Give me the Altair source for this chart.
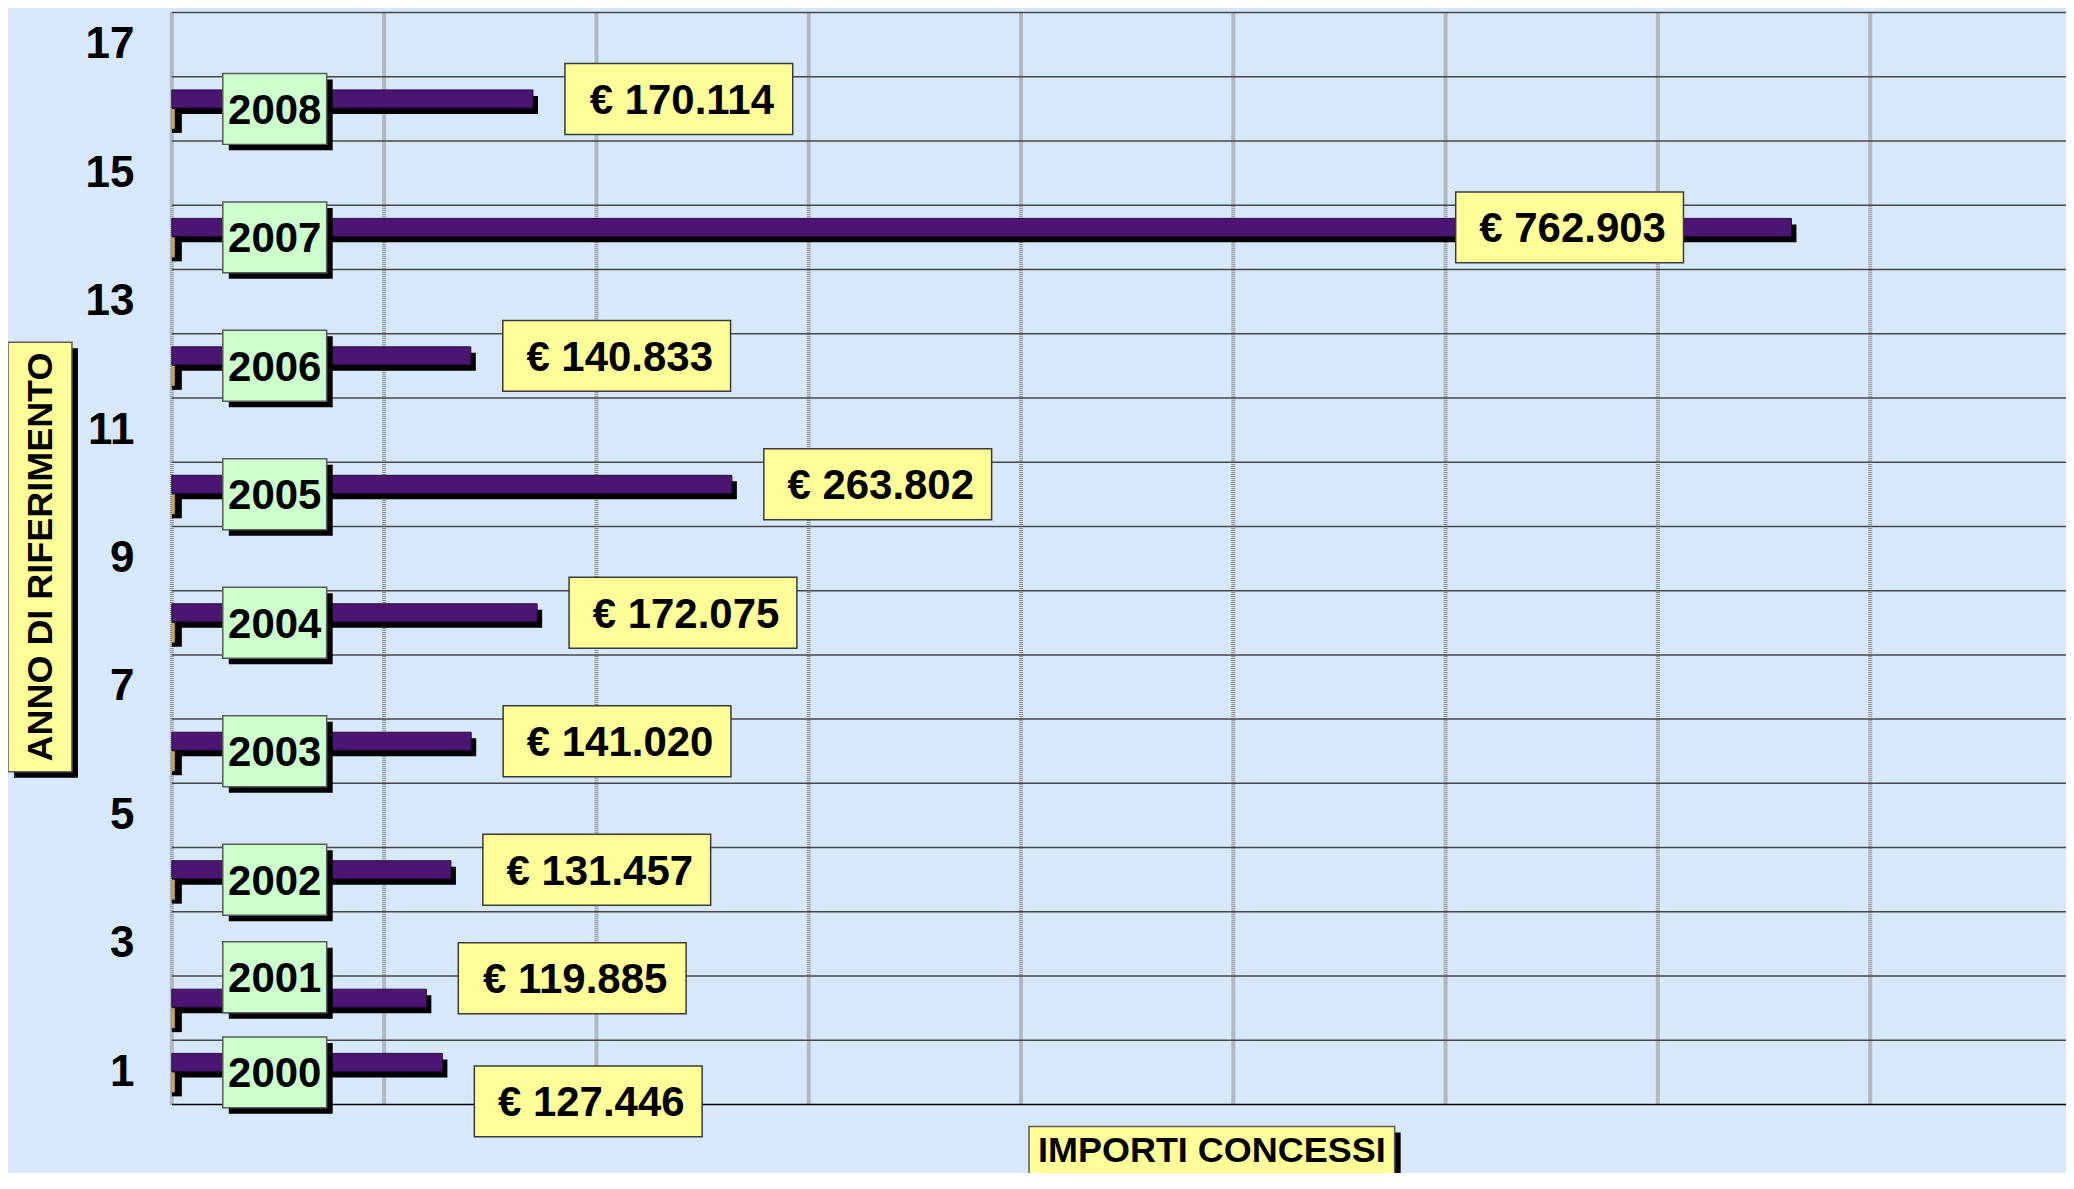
import altair as alt
import pandas as pd

# ---- data ----
anni = [2000, 2001, 2002, 2003, 2004, 2005, 2006, 2007, 2008]
importi = [127446, 119885, 131457, 141020, 172075, 263802, 140833, 762903, 170114]
categoria = [1, 2, 4, 6, 8, 10, 12, 14, 16]          # slot on the category axis
etichette_y = [1, 3, 5, 7, 9, 11, 13, 15, 17]        # tick labels shown
griglia_x = [0, 100000, 200000, 300000, 400000, 500000, 600000, 700000, 800000]
n_categorie = 17
titolo_y = "ANNO DI RIFERIMENTO"
titolo_x = "IMPORTI CONCESSI"

# ---- layout ----
W, H = 1896, 1093
PX_PER_UNIT_X = 212.5 / 100000
XMAX = W / PX_PER_UNIT_X
PY = H / n_categorie  # px per category

FONT = "Liberation Sans, Arial, Helvetica, sans-serif"
BG = "#d7e8fb"
PURPLE = "#4a1672"
GREEN = "#ccffcc"
YELLOW = "#ffff99"


def euro(v):
    return "€ " + f"{v:,}".replace(",", ".")


df = pd.DataFrame({
    "anno": [str(a) for a in anni],
    "importo": importi,
    "cat": categoria,
    "etichetta": [euro(v) for v in importi],
})
df["zero"] = 0
df["mid"] = df["cat"] - 0.5
df["centro"] = df["mid"] + 10 / PY
df["b_lo"] = df["centro"] - 9 / PY
df["b_hi"] = df["centro"] + 9 / PY
df["f_lo"] = df["b_lo"] - 25 / PY

# labels: centred on their bar, but pushed apart when two bars are adjacent
lab_y = list(df["centro"])
year_y = list(df["mid"])
for i in range(len(categoria) - 1):
    if categoria[i + 1] - categoria[i] == 1:
        lab_y[i] -= 39 / PY
        lab_y[i + 1] += 20 / PY
        year_y[i + 1] += 31 / PY
df["lab_y"] = lab_y
df["year_y"] = year_y
df["yb_lo"] = df["year_y"] - 35.5 / PY
df["yb_hi"] = df["year_y"] + 35.5 / PY
df["vb_lo"] = df["lab_y"] - 35.5 / PY
df["vb_hi"] = df["lab_y"] + 35.5 / PY
# value label placed right of the bar end, or inside a very long bar
df["ancora"] = [v - 104500 if v > 500000 else v + 68700 for v in importi]

xs = alt.Scale(domain=[0, XMAX], nice=False, zero=False)
ys = alt.Scale(domain=[0, n_categorie], nice=False, zero=False)
yaxis = alt.Axis(
    values=[t - 0.5 for t in etichette_y],
    labelExpr="datum.value + 0.5",
    labelFont=FONT, labelFontWeight="bold", labelFontSize=44, labelColor="black",
    labelAlign="right", labelBaseline="middle", labelPadding=38,
    ticks=False, domain=False, grid=False, title=None,
)

base = alt.Chart(df)

vgrid = alt.Chart(pd.DataFrame({"gx": griglia_x})).mark_rule(
    color="#8a8a8a", strokeWidth=4, strokeDash=[1, 1]
).encode(x=alt.X("gx:Q", scale=xs, axis=None))

hgrid = alt.Chart(pd.DataFrame({"gy": list(range(n_categorie + 1))})).mark_rule(
    strokeWidth=1.5
).encode(
    y=alt.Y("gy:Q", scale=ys, axis=yaxis),
    color=alt.condition("datum.gy == 0", alt.value("black"), alt.value("#474747")),
)

bar_shadow = base.mark_rect(color="black", xOffset=5, x2Offset=5, yOffset=6, y2Offset=6).encode(
    x=alt.X("zero:Q", scale=xs, axis=None), x2="importo:Q",
    y=alt.Y("b_lo:Q", scale=ys, axis=yaxis), y2="b_hi:Q",
)
bars = base.mark_rect(color=PURPLE, stroke="#2a0a40", strokeWidth=1).encode(
    x=alt.X("zero:Q", scale=xs, axis=None), x2="importo:Q",
    y=alt.Y("b_lo:Q", scale=ys, axis=yaxis), y2="b_hi:Q",
)
foot = base.mark_rect(color="black").encode(
    x=alt.value(0), x2=alt.value(10),
    y=alt.Y("f_lo:Q", scale=ys, axis=yaxis), y2="b_lo:Q",
)
foot_stripe = base.mark_rect(color="#c8a060", yOffset=-4, y2Offset=1).encode(
    x=alt.value(0), x2=alt.value(3),
    y=alt.Y("f_lo:Q", scale=ys, axis=yaxis), y2="b_lo:Q",
)

year_shadow = base.mark_rect(color="black", yOffset=6, y2Offset=6).encode(
    x=alt.value(57), x2=alt.value(161),
    y=alt.Y("yb_lo:Q", scale=ys, axis=yaxis), y2="yb_hi:Q",
)
year_box = base.mark_rect(fill=GREEN, stroke="#5a5a5a", strokeWidth=1.5).encode(
    x=alt.value(51), x2=alt.value(155),
    y=alt.Y("yb_lo:Q", scale=ys, axis=yaxis), y2="yb_hi:Q",
)
year_text = base.mark_text(
    font=FONT, fontWeight="bold", fontSize=42, color="black",
    align="center", baseline="middle", dy=2,
).encode(x=alt.value(103), y=alt.Y("year_y:Q", scale=ys, axis=yaxis), text="anno:N")

val_box = base.mark_rect(
    fill=YELLOW, stroke="#3a3a3a", strokeWidth=1.5, xOffset=-114, x2Offset=114
).encode(
    x=alt.X("ancora:Q", scale=xs, axis=None), x2="ancora:Q",
    y=alt.Y("vb_lo:Q", scale=ys, axis=yaxis), y2="vb_hi:Q",
)
val_text = base.mark_text(
    font=FONT, fontWeight="bold", fontSize=42, color="black",
    align="center", baseline="middle", dx=3, dy=2,
).encode(
    x=alt.X("ancora:Q", scale=xs, axis=None),
    y=alt.Y("lab_y:Q", scale=ys, axis=yaxis), text="etichetta:N",
)

tdf = alt.Chart(pd.DataFrame({"ty": [titolo_y], "tx": [titolo_x]}))
ytit_shadow = tdf.mark_rect(color="black").encode(
    x=alt.value(-158), x2=alt.value(-94), y=alt.value(336), y2=alt.value(766))
ytit_box = tdf.mark_rect(fill=YELLOW, stroke="#5a5a5a", strokeWidth=1.5).encode(
    x=alt.value(-164), x2=alt.value(-100), y=alt.value(330), y2=alt.value(760))
ytit_text = tdf.mark_text(
    font=FONT, fontWeight="bold", fontSize=36, color="black",
    angle=270, align="center", baseline="middle",
).encode(x=alt.value(-131), y=alt.value(545), text="ty:N")

xtit_shadow = tdf.mark_rect(color="black").encode(
    x=alt.value(864), x2=alt.value(1230), y=alt.value(1121), y2=alt.value(1200))
xtit_box = tdf.mark_rect(fill=YELLOW, stroke="#5a5a5a", strokeWidth=1.5).encode(
    x=alt.value(858), x2=alt.value(1224), y=alt.value(1115), y2=alt.value(1200))
xtit_text = tdf.mark_text(
    font=FONT, fontWeight="bold", fontSize=36, color="black",
    align="center", baseline="middle",
).encode(x=alt.value(1041), y=alt.value(1140), text="tx:N")

chart = alt.layer(
    vgrid, hgrid, bar_shadow, bars, foot, foot_stripe,
    year_shadow, year_box, year_text, val_box, val_text,
    ytit_shadow, ytit_box, ytit_text, xtit_shadow, xtit_box, xtit_text,
).properties(
    width=W, height=H,
    padding={"left": 164, "top": 4, "right": 0, "bottom": 68},
    autosize=alt.AutoSizeParams(type="none"),
    background=BG,
).configure_view(strokeWidth=0)

chart.save("out.html", embed_options={"renderer": "svg", "actions": False})
